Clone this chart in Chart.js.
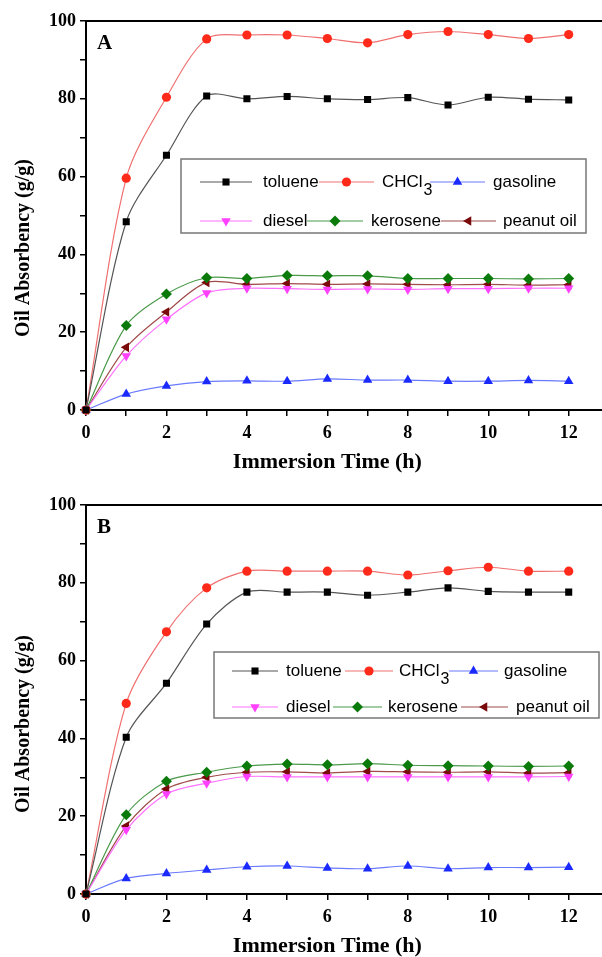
<!DOCTYPE html>
<html>
<head>
<meta charset="utf-8">
<script src="https://cdn.jsdelivr.net/npm/chart.js@4/dist/chart.umd.min.js"></script>
<style>
  html, body { margin: 0; padding: 0; background: #fff; overflow: hidden; }
  #wrapA { position: absolute; left: 0; top: 0; width: 608px; height: 478px; }
  #wrapB { position: absolute; left: 0; top: 478px; width: 608px; height: 484px; }
</style>
</head>
<body>
<div id="wrapA"><canvas id="chartA" width="608" height="478"></canvas></div>
<div id="wrapB"><canvas id="chartB" width="608" height="484"></canvas></div>
<script>
// immersion time (h)
const times = [0, 1, 2, 3, 4, 5, 6, 7, 8, 9, 10, 11, 12];
const seriesNames = ["toluene", "CHCl3", "gasoline", "diesel", "kerosene", "peanut oil"];

// panel A, oil absorbency (g/g)
const tolueneA  = [0, 48.4, 65.5, 80.7, 80.0, 80.6, 80.0, 79.8, 80.3, 78.4, 80.4, 79.9, 79.7];
const chcl3A    = [0, 59.6, 80.4, 95.4, 96.4, 96.4, 95.5, 94.4, 96.5, 97.3, 96.5, 95.5, 96.5];
const gasolineA = [0, 4.1, 6.2, 7.3, 7.5, 7.4, 8.0, 7.7, 7.7, 7.4, 7.4, 7.6, 7.4];
const dieselA   = [0, 13.9, 23.3, 30.1, 31.3, 31.2, 31.0, 31.1, 31.0, 31.2, 31.2, 31.3, 31.3];
const keroseneA = [0, 21.7, 29.8, 34.0, 33.8, 34.6, 34.5, 34.5, 33.8, 33.8, 33.8, 33.7, 33.8];
const peanutA   = [0, 16.1, 25.2, 32.8, 32.3, 32.5, 32.3, 32.4, 32.3, 32.2, 32.3, 32.1, 32.2];

// panel B
const tolueneB  = [0, 40.3, 54.2, 69.4, 77.6, 77.6, 77.6, 76.8, 77.6, 78.7, 77.8, 77.6, 77.6];
const chcl3B    = [0, 49.0, 67.4, 78.7, 83.0, 83.0, 83.0, 83.0, 82.0, 83.1, 84.0, 83.0, 83.0];
const gasolineB = [0, 4.0, 5.3, 6.2, 7.0, 7.2, 6.7, 6.5, 7.2, 6.5, 6.8, 6.8, 6.9];
const dieselB   = [0, 16.5, 25.7, 28.5, 30.2, 30.1, 30.1, 30.1, 30.1, 30.1, 30.1, 30.1, 30.2];
const keroseneB = [0, 20.4, 29.0, 31.3, 32.9, 33.4, 33.2, 33.5, 33.1, 33.0, 32.9, 32.8, 32.9];
const peanutB   = [0, 17.5, 27.0, 30.0, 31.3, 31.4, 31.1, 31.5, 31.4, 31.3, 31.4, 31.1, 31.2];

const yTicks = [0, 20, 40, 60, 80, 100];
const xTicks = [0, 2, 4, 6, 8, 10, 12];
const xTitle = "Immersion Time (h)";
const yTitle = "Oil Absorbency (g/g)";

// look of each series (same order as seriesNames)
const styles = [
  { line: "#555555", fill: "#000000", shape: "rect",    rot: 0,   r: 5 },
  { line: "#f07070", fill: "#ff2a1a", shape: "circle",  rot: 0,   r: 4.6 },
  { line: "#6a7aff", fill: "#1a2aff", shape: "triangle",rot: 0,   r: 5.5 },
  { line: "#ff70ff", fill: "#ff40ff", shape: "triangle",rot: 180, r: 5.5 },
  { line: "#4a9a4a", fill: "#0a7a0a", shape: "rectRot", rot: 0,   r: 5.5 },
  { line: "#a04a4a", fill: "#7a0a0a", shape: "triangle",rot: -90, r: 5.5 }
];

const serif = "'Liberation Serif', 'Times New Roman', serif";
const sans = "'Liberation Sans', Arial, sans-serif";

function makeDatasets(lists) {
  return lists.map((vals, i) => ({
    label: seriesNames[i],
    data: times.map((t, k) => ({ x: t, y: vals[k] })),
    borderColor: styles[i].line,
    borderWidth: 1.2,
    backgroundColor: styles[i].fill,
    pointBackgroundColor: styles[i].fill,
    pointBorderWidth: 0,
    pointStyle: styles[i].shape,
    pointRotation: styles[i].rot,
    pointRadius: styles[i].r,
    tension: 0.3,
    clip: 8
  }));
}

function drawMarker(ctx, st, x, y) {
  ctx.save();
  ctx.fillStyle = st.fill;
  ctx.strokeStyle = st.fill;
  Chart.helpers.drawPoint(ctx, { pointStyle: st.shape, radius: st.r, rotation: st.rot, borderWidth: 0 }, x, y);
  ctx.restore();
}

// frame line on top, axis titles, panel letter, and the boxed legend
const decorPlugin = {
  id: "decor",
  afterDraw(chart, args, opts) {
    const { ctx, chartArea, scales } = chart;
    ctx.save();
    ctx.strokeStyle = "#000";
    ctx.lineWidth = 2;
    ctx.beginPath();
    ctx.moveTo(chartArea.left, chartArea.top);
    ctx.lineTo(chartArea.right, chartArea.top);
    ctx.stroke();

    ctx.fillStyle = "#000";
    ctx.font = "bold 21px " + serif;
    ctx.textAlign = "left";
    ctx.textBaseline = "alphabetic";
    ctx.fillText(opts.letter, chartArea.left + 11, chartArea.top + 28);

    // axis titles (centred like the original plot, not on the chart area)
    ctx.font = "bold 22px " + serif;
    ctx.textAlign = "center";
    ctx.fillText(xTitle, scales.x.getPixelForValue(6), chartArea.bottom + 58);

    ctx.save();
    ctx.translate(24, opts.yTitleAt);
    ctx.rotate(-Math.PI / 2);
    ctx.font = "bold 20px " + serif;
    ctx.textBaseline = "middle";
    ctx.fillText(yTitle, 0, 0);
    ctx.restore();

    const lg = opts.legend;
    ctx.strokeStyle = "#777";
    ctx.lineWidth = 1.5;
    ctx.strokeRect(lg.box[0], lg.box[1], lg.box[2] - lg.box[0], lg.box[3] - lg.box[1]);

    ctx.textAlign = "left";
    lg.items.forEach((it, i) => {
      const st = styles[i];
      const y = lg.rows[Math.floor(i / 3)];
      ctx.strokeStyle = st.line;
      ctx.lineWidth = 1.2;
      ctx.beginPath();
      ctx.moveTo(it.line[0], y);
      ctx.lineTo(it.line[1], y);
      ctx.stroke();
      drawMarker(ctx, st, (it.line[0] + it.line[1]) / 2, y);

      ctx.fillStyle = "#000";
      ctx.font = "17px " + sans;
      ctx.textBaseline = "middle";
      if (seriesNames[i] === "CHCl3") {
        ctx.fillText("CHCl", it.text, y);
        const w = ctx.measureText("CHCl").width;
        ctx.font = "16px " + sans;
        ctx.fillText("3", it.text + w + 1, y + 9);
      } else {
        ctx.fillText(seriesNames[i], it.text, y);
      }
    });
    ctx.restore();
  }
};

function makeOptions(letter, legend, padTop, yTitleAt) {
  return {
    responsive: false,
    animation: false,
    devicePixelRatio: 1,
    layout: { padding: { top: padTop, left: 0, right: 0, bottom: 0 } },
    plugins: {
      legend: { display: false },
      tooltip: { enabled: false },
      decor: { letter: letter, legend: legend, yTitleAt: yTitleAt }
    },
    scales: {
      x: {
        type: "linear",
        min: 0,
        max: 12.84,
        afterFit(scale) { scale.height = 68; },
        border: { display: true, color: "#000", width: 2 },
        grid: { drawOnChartArea: false, color: "#000", lineWidth: 1.5, tickLength: 6 },
        ticks: {
          stepSize: 1,
          includeBounds: false,
          padding: 7,
          color: "#000",
          font: { family: serif, weight: "bold", size: 18 },
          callback: (v) => xTicks.includes(v) ? String(v) : ""
        }
      },
      y: {
        min: 0,
        max: 100,
        afterFit(scale) { scale.width = 86; },
        border: { display: true, color: "#000", width: 2 },
        grid: { drawOnChartArea: false, color: "#000", lineWidth: 1.5, tickLength: 6 },
        ticks: {
          stepSize: 10,
          padding: 4,
          color: "#000",
          font: { family: serif, weight: "bold", size: 18 },
          callback: (v) => yTicks.includes(v) ? String(v) : ""
        }
      }
    }
  };
}

const legendA = {
  box: [181, 159, 586, 233],
  rows: [182, 221],
  items: [
    { line: [200, 252], text: 263 },
    { line: [319, 374], text: 382 },
    { line: [430, 485], text: 493 },
    { line: [200, 252], text: 263 },
    { line: [307, 363], text: 371 },
    { line: [441, 496], text: 503 }
  ]
};

const legendB = {
  box: [214, 174, 599, 240],
  rows: [193, 229],
  items: [
    { line: [232, 278], text: 286 },
    { line: [345, 393], text: 399 },
    { line: [449, 498], text: 504 },
    { line: [232, 278], text: 286 },
    { line: [333, 382], text: 388 },
    { line: [461, 508], text: 516 }
  ]
};

new Chart(document.getElementById("chartA"), {
  type: "line",
  data: { datasets: makeDatasets([tolueneA, chcl3A, gasolineA, dieselA, keroseneA, peanutA]) },
  options: makeOptions("A", legendA, 21, 248),
  plugins: [decorPlugin]
});

new Chart(document.getElementById("chartB"), {
  type: "line",
  data: { datasets: makeDatasets([tolueneB, chcl3B, gasolineB, dieselB, keroseneB, peanutB]) },
  options: makeOptions("B", legendB, 27, 246),
  plugins: [decorPlugin]
});
</script>
</body>
</html>
